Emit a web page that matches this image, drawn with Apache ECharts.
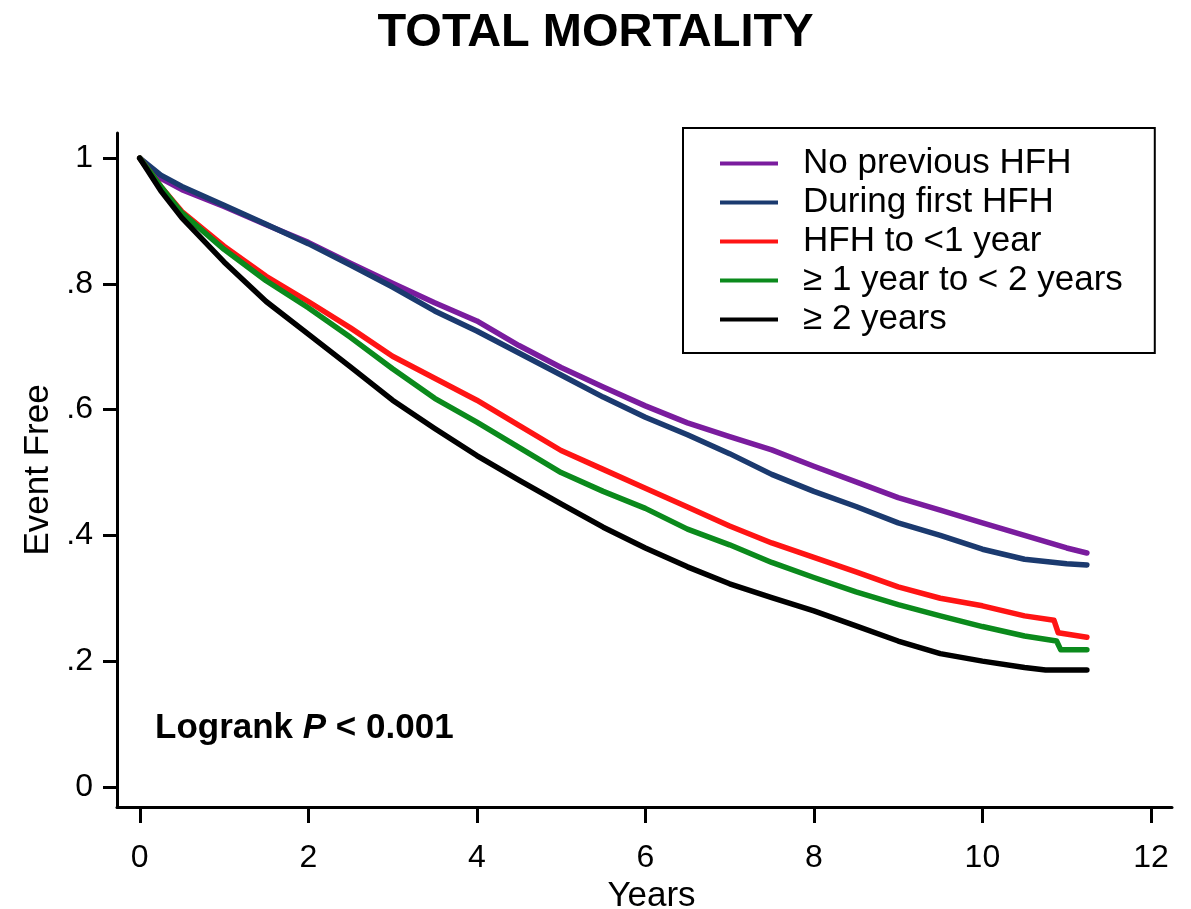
<!DOCTYPE html>
<html>
<head>
<meta charset="utf-8">
<script src="https://cdn.jsdelivr.net/npm/echarts@6/dist/echarts.min.js"></script>
<style>html,body{margin:0;padding:0;background:#fff}#chart{width:1191px;height:909px}</style>
</head>
<body>
<div id="chart"></div>
<script>
const seriesNames = ["No previous HFH", "During first HFH", "HFH to <1 year", "\u2265 1 year to < 2 years", "\u2265 2 years"];
const xTicks = [0, 2, 4, 6, 8, 10, 12];
const yTicks = [0, 0.2, 0.4, 0.6, 0.8, 1];
const yTickLabels = ["0", ".2", ".4", ".6", ".8", "1"];

const yearsMain = [0, 0.25, 0.5, 1, 1.5, 2, 2.5, 3, 3.5, 4, 4.5, 5, 5.5, 6, 6.5, 7, 7.5, 8, 8.5, 9, 9.5, 10, 10.5, 11, 11.24];
const noPrevious = [1.0, 0.968, 0.950, 0.923, 0.894, 0.866, 0.833, 0.801, 0.770, 0.741, 0.702, 0.667, 0.636, 0.606, 0.579, 0.557, 0.536, 0.510, 0.485, 0.460, 0.440, 0.420, 0.400, 0.380, 0.372];
const duringFirst = [1.0, 0.973, 0.955, 0.925, 0.895, 0.864, 0.830, 0.795, 0.757, 0.725, 0.690, 0.655, 0.620, 0.588, 0.560, 0.530, 0.497, 0.470, 0.446, 0.420, 0.400, 0.378, 0.362, 0.355, 0.353];

const yearsRed = [0, 0.25, 0.5, 1, 1.5, 2, 2.5, 3, 3.5, 4, 4.5, 5, 5.5, 6, 6.5, 7, 7.5, 8, 8.5, 9, 9.5, 10, 10.5, 10.85, 10.9, 11.24];
const lessOneYear = [1.0, 0.955, 0.915, 0.860, 0.812, 0.772, 0.730, 0.685, 0.650, 0.615, 0.575, 0.535, 0.505, 0.475, 0.445, 0.415, 0.388, 0.365, 0.342, 0.318, 0.300, 0.288, 0.272, 0.265, 0.245, 0.238];

const yearsGreen = [0, 0.25, 0.5, 1, 1.5, 2, 2.5, 3, 3.5, 4, 4.5, 5, 5.5, 6, 6.5, 7, 7.5, 8, 8.5, 9, 9.5, 10, 10.5, 10.88, 10.93, 11.24];
const oneToTwoYears = [1.0, 0.955, 0.913, 0.855, 0.805, 0.762, 0.715, 0.665, 0.618, 0.580, 0.540, 0.500, 0.470, 0.443, 0.410, 0.385, 0.357, 0.333, 0.310, 0.290, 0.272, 0.255, 0.240, 0.232, 0.218, 0.218];

const yearsBlack = [0, 0.25, 0.5, 1, 1.5, 2, 2.5, 3, 3.5, 4, 4.5, 5, 5.5, 6, 6.5, 7, 7.5, 8, 8.5, 9, 9.5, 10, 10.5, 10.75, 11.24];
const twoPlusYears = [1.0, 0.948, 0.905, 0.835, 0.772, 0.720, 0.668, 0.615, 0.570, 0.527, 0.488, 0.450, 0.413, 0.380, 0.350, 0.323, 0.301, 0.280, 0.256, 0.232, 0.212, 0.200, 0.190, 0.186, 0.186];

const colors = ["#7a1c9e", "#1b3a6f", "#ff1414", "#0b8a1c", "#000000"];

function pairs(xs, ys) { return xs.map((x, i) => [x, ys[i]]); }
const seriesData = [
  pairs(yearsMain, noPrevious),
  pairs(yearsMain, duringFirst),
  pairs(yearsRed, lessOneYear),
  pairs(yearsGreen, oneToTwoYears),
  pairs(yearsBlack, twoPlusYears)
];

const chart = echarts.init(document.getElementById('chart'), null, {renderer: 'canvas'});
const font = "Liberation Sans, Arial, sans-serif";
chart.setOption({
  animation: false,
  backgroundColor: '#fff',
  title: [
    {
      text: 'TOTAL MORTALITY',
      left: 'center', top: 5,
      textStyle: {fontFamily: font, fontSize: 47, fontWeight: 'bold', color: '#000'}
    },
    {
      text: '{b|Logrank }{i|P}{b| < 0.001}',
      left: 150, top: 706,
      textStyle: {
        rich: {
          b: {fontFamily: font, fontSize: 35, fontWeight: 'bold', color: '#000'},
          i: {fontFamily: font, fontSize: 35, fontWeight: 'bold', fontStyle: 'italic', color: '#000'}
        }
      }
    }
  ],
  legend: {
    orient: 'vertical',
    left: 683, top: 128,
    padding: [18, 32, 16, 37],
    itemGap: 4,
    itemWidth: 58, itemHeight: 4,
    icon: 'rect',
    borderColor: '#000', borderWidth: 2, borderRadius: 0,
    backgroundColor: '#fff',
    textStyle: {fontFamily: font, fontSize: 35, color: '#000', lineHeight: 33, padding: [0, 0, 0, 20]},
    data: seriesNames
  },
  grid: {left: 117, right: 19, top: 133, bottom: 102, containLabel: false, outerBoundsMode: 'none'},
  xAxis: {
    type: 'value', min: -0.27, max: 12.25,
    name: 'Years', nameLocation: 'middle', nameGap: 60,
    nameTextStyle: {fontFamily: font, fontSize: 35, color: '#000', padding: [0, 0, 0, 14]},
    axisLine: {show: true, onZero: false, lineStyle: {color: '#000', width: 3}},
    axisTick: {show: true, length: 16, customValues: xTicks, lineStyle: {color: '#000', width: 3}},
    axisLabel: {customValues: xTicks, margin: 35, fontFamily: font, fontSize: 32, color: '#000'},
    splitLine: {show: false}
  },
  yAxis: {
    type: 'value', min: -0.032, max: 1.04,
    name: 'Event Free', nameLocation: 'middle', nameGap: 60, nameRotate: 90,
    nameTextStyle: {fontFamily: font, fontSize: 35, color: '#000', padding: [0, 0, 0, 0]},
    axisLine: {show: true, onZero: false, lineStyle: {color: '#000', width: 3}},
    axisTick: {show: true, length: 14, customValues: yTicks, lineStyle: {color: '#000', width: 3}},
    axisLabel: {
      customValues: yTicks, margin: 24, fontFamily: font, fontSize: 32, color: '#000',
      formatter: function (v) { const i = yTicks.findIndex(t => Math.abs(t - v) < 1e-6); return i >= 0 ? yTickLabels[i] : ''; }
    },
    splitLine: {show: false}
  },
  series: seriesNames.map((name, i) => ({
    name: name,
    type: 'line',
    data: seriesData[i],
    showSymbol: false,
    symbol: 'none',
    color: colors[i],
    lineStyle: {width: 5.5, color: colors[i], join: 'round', cap: 'round'},
    z: 2 + i
  }))
});
</script>
</body>
</html>
